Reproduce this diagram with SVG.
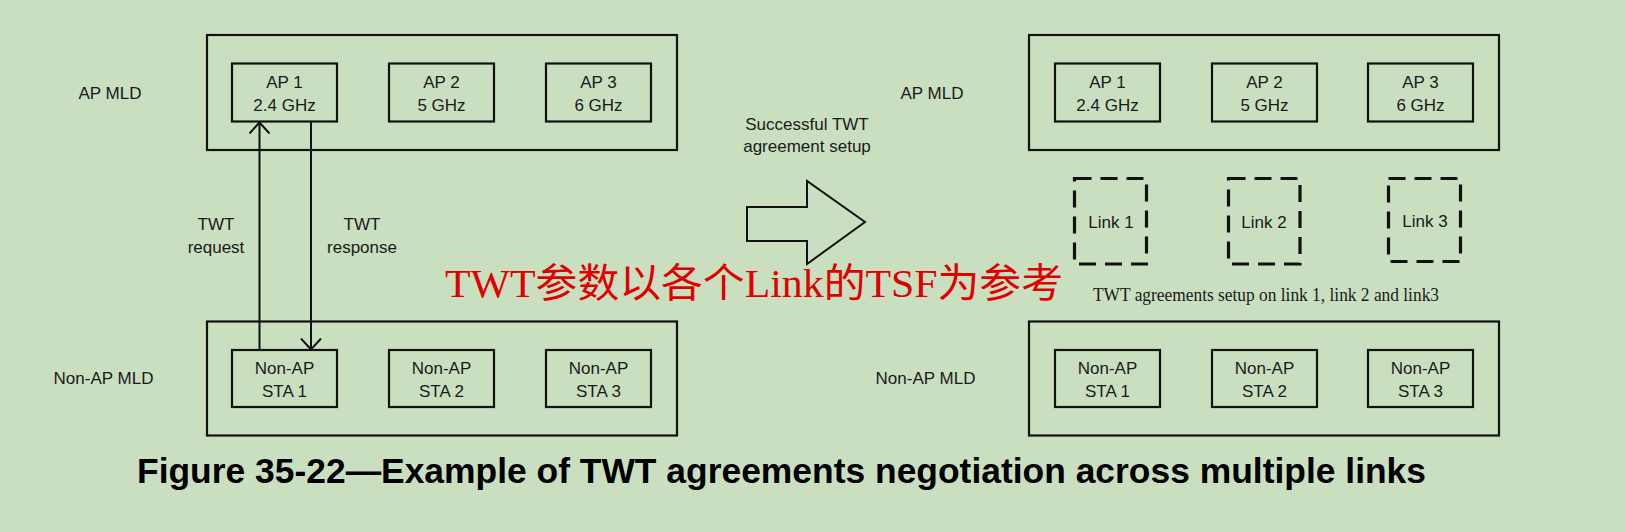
<svg xmlns="http://www.w3.org/2000/svg" width="1626" height="532" viewBox="0 0 1626 532">
<defs>
<style>
.bg{fill:#CADFC0}
.box{fill:none;stroke:#111;stroke-width:2.2}
.dash{fill:none;stroke:#111;stroke-width:3.2;stroke-dasharray:17 9}
.t{font-family:"Liberation Sans",Arial,sans-serif;font-size:17px;fill:#1a1a1a;text-anchor:middle}
.ts{font-family:"Liberation Serif","Times New Roman",serif;font-size:18px;fill:#1a1a1a}
.red{font-family:"Liberation Serif","Noto Sans CJK SC",serif;font-size:40px;fill:#E00000}
.cap{font-family:"Liberation Sans",Arial,sans-serif;font-size:35px;font-weight:bold;fill:#000;text-anchor:middle}
.line{fill:none;stroke:#111;stroke-width:2}
</style>
<marker id="open" viewBox="0 0 13 22" refX="11.5" refY="11" markerWidth="13" markerHeight="22" markerUnits="userSpaceOnUse" orient="auto">
<path d="M0.5,1 L11.5,11 L0.5,21" fill="none" stroke="#111" stroke-width="2"/>
</marker>
</defs>
<rect class="bg" x="0" y="0" width="1626" height="532"/>

<g id="left-ap-mld">
<rect class="box" x="207" y="35" width="470" height="115"/>
<text class="t" x="110" y="99">AP MLD</text>
</g>
<g id="left-ap1"><rect class="box" x="232" y="63.5" width="105" height="58"/><text class="t" x="284.5" y="88">AP 1</text><text class="t" x="284.5" y="111">2.4 GHz</text></g>
<g id="left-ap2"><rect class="box" x="389" y="63.5" width="105" height="58"/><text class="t" x="441.5" y="88">AP 2</text><text class="t" x="441.5" y="111">5 GHz</text></g>
<g id="left-ap3"><rect class="box" x="546" y="63.5" width="105" height="58"/><text class="t" x="598.5" y="88">AP 3</text><text class="t" x="598.5" y="111">6 GHz</text></g>

<g id="left-nonap-mld">
<rect class="box" x="207" y="321.5" width="470" height="114"/>
<text class="t" x="103.5" y="384">Non-AP MLD</text>
</g>
<g id="left-sta1"><rect class="box" x="232" y="350" width="105" height="57"/><text class="t" x="284.5" y="374">Non-AP</text><text class="t" x="284.5" y="397">STA 1</text></g>
<g id="left-sta2"><rect class="box" x="389" y="350" width="105" height="57"/><text class="t" x="441.5" y="374">Non-AP</text><text class="t" x="441.5" y="397">STA 2</text></g>
<g id="left-sta3"><rect class="box" x="546" y="350" width="105" height="57"/><text class="t" x="598.5" y="374">Non-AP</text><text class="t" x="598.5" y="397">STA 3</text></g>

<g id="connectors">
<line class="line" x1="259.5" y1="350" x2="259.5" y2="122.5" marker-end="url(#open)"/>
<line class="line" x1="311" y1="122" x2="311" y2="349.5" marker-end="url(#open)"/>
</g>
<g id="labels">
<text class="t" x="216" y="230">TWT</text>
<text class="t" x="216" y="253">request</text>
<text class="t" x="362" y="230">TWT</text>
<text class="t" x="362" y="253">response</text>
<text class="t" x="807" y="130">Successful TWT</text>
<text class="t" x="807" y="152">agreement setup</text>
</g>

<g id="big-arrow">
<polygon points="747,207 807,207 807,181 865,222 807,264 807,241 747,241" fill="none" stroke="#111" stroke-width="2"/>
</g>

<g id="right-ap-mld">
<rect class="box" x="1029" y="35" width="470" height="115"/>
<text class="t" x="932" y="99">AP MLD</text>
</g>
<g id="right-ap1"><rect class="box" x="1055" y="63.5" width="105" height="58"/><text class="t" x="1107.5" y="88">AP 1</text><text class="t" x="1107.5" y="111">2.4 GHz</text></g>
<g id="right-ap2"><rect class="box" x="1212" y="63.5" width="105" height="58"/><text class="t" x="1264.5" y="88">AP 2</text><text class="t" x="1264.5" y="111">5 GHz</text></g>
<g id="right-ap3"><rect class="box" x="1368" y="63.5" width="105" height="58"/><text class="t" x="1420.5" y="88">AP 3</text><text class="t" x="1420.5" y="111">6 GHz</text></g>

<g id="link1"><rect class="dash" x="1074.5" y="178.5" width="72" height="85.5"/><text class="t" x="1111" y="228">Link 1</text></g>
<g id="link2"><rect class="dash" x="1228.5" y="178.5" width="71.5" height="85.5"/><text class="t" x="1264" y="228">Link 2</text></g>
<g id="link3"><rect class="dash" x="1388.5" y="178.5" width="72" height="83"/><text class="t" x="1425" y="227">Link 3</text></g>
<text class="ts" x="1093" y="301" textLength="346" lengthAdjust="spacingAndGlyphs">TWT agreements setup on link 1, link 2 and link3</text>

<g id="right-nonap-mld">
<rect class="box" x="1029" y="321.5" width="470" height="114"/>
<text class="t" x="925.5" y="384">Non-AP MLD</text>
</g>
<g id="right-sta1"><rect class="box" x="1055" y="350" width="105" height="57"/><text class="t" x="1107.5" y="374">Non-AP</text><text class="t" x="1107.5" y="397">STA 1</text></g>
<g id="right-sta2"><rect class="box" x="1212" y="350" width="105" height="57"/><text class="t" x="1264.5" y="374">Non-AP</text><text class="t" x="1264.5" y="397">STA 2</text></g>
<g id="right-sta3"><rect class="box" x="1368" y="350" width="105" height="57"/><text class="t" x="1420.5" y="374">Non-AP</text><text class="t" x="1420.5" y="397">STA 3</text></g>

<text class="red" x="445" y="297" textLength="618" lengthAdjust="spacingAndGlyphs">TWT参数以各个Link的TSF为参考</text>

<text class="cap" x="781.5" y="483" textLength="1289" lengthAdjust="spacingAndGlyphs">Figure 35-22—Example of TWT agreements negotiation across multiple links</text>
</svg>
